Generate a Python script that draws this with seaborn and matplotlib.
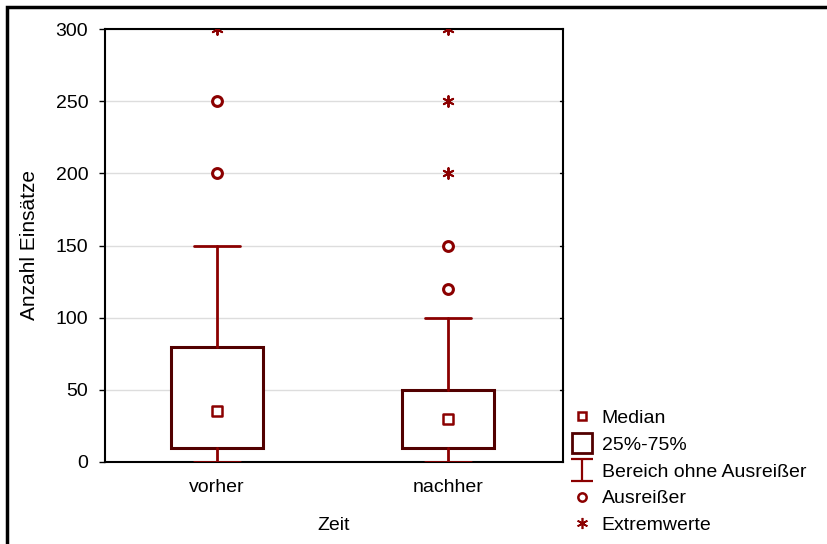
import matplotlib
matplotlib.use("Agg")
import matplotlib.pyplot as plt
from matplotlib.lines import Line2D
from matplotlib.path import Path
from matplotlib.patches import Rectangle
import seaborn as sns
import pandas as pd

# Summary statistics per period
groups = ["vorher", "nachher"]
medians = [35, 30]
q1 = [10, 10]
q3 = [80, 50]
whisker_low = [0, 0]
whisker_high = [150, 100]
# Outliers and extreme values per group
outliers_vorher = [200, 250]
outliers_nachher = [120, 150]
extremes_vorher = [300]
extremes_nachher = [200, 250, 300]

yticks = [0, 50, 100, 150, 200, 250, 300]
legend_labels = ["Median", "25%-75%", "Bereich ohne Ausreißer", "Ausreißer", "Extremwerte"]

BOX_COL = "#520000"
RED = "#8b0000"

sns.set_style("white")
plt.rcParams["font.family"] = ["Liberation Sans", "DejaVu Sans"]
plt.rcParams["font.size"] = 14
plt.rcParams["text.color"] = "black"
plt.rcParams["axes.labelcolor"] = "black"
plt.rcParams["xtick.color"] = "black"
plt.rcParams["ytick.color"] = "black"

fig = plt.figure(figsize=(8.27, 5.44), dpi=100)
ax = fig.add_axes([105 / 827, (544 - 462) / 544, 458 / 827, 433 / 544])

positions = list(range(len(groups)))
stats = [
    dict(med=medians[i], q1=q1[i], q3=q3[i], whislo=whisker_low[i],
         whishi=whisker_high[i], fliers=[], label=groups[i])
    for i in positions
]
ax.bxp(stats, positions=positions, widths=0.4, showfliers=False, capwidths=0.2,
       patch_artist=True,
       boxprops=dict(facecolor="white", edgecolor=BOX_COL, linewidth=2.2),
       whiskerprops=dict(color=RED, linewidth=2),
       capprops=dict(color=RED, linewidth=2),
       medianprops=dict(linewidth=0, alpha=0), zorder=3)

# medians as small squares
med_df = pd.DataFrame({"pos": positions, "val": medians})
sns.scatterplot(data=med_df, x="pos", y="val", marker="s", s=45,
                facecolor="white", edgecolor=RED, linewidth=1.8, ax=ax, zorder=4)

out_df = pd.DataFrame({
    "pos": [0] * len(outliers_vorher) + [1] * len(outliers_nachher),
    "val": outliers_vorher + outliers_nachher,
})
sns.scatterplot(data=out_df, x="pos", y="val", marker="o", s=50,
                facecolor="white", edgecolor=RED, linewidth=2.2, ax=ax, zorder=4)

ext_df = pd.DataFrame({
    "pos": [0] * len(extremes_vorher) + [1] * len(extremes_nachher),
    "val": extremes_vorher + extremes_nachher,
})
sns.scatterplot(data=ext_df, x="pos", y="val", marker=(6, 2, 0), s=60,
                color=RED, edgecolor=RED, linewidth=1.4, ax=ax, zorder=4)

ax.set_xlim(-0.485, 1.498)
ax.set_ylim(0, 300)
ax.set_xticks(positions)
ax.set_xticklabels(groups)
ax.set_yticks(yticks)
ax.yaxis.grid(True, color="#dddddd", linewidth=1)
ax.set_axisbelow(True)
ax.tick_params(axis="x", length=0, pad=12, labelsize=14)
ax.tick_params(axis="y", direction="out", length=4, width=1, pad=8, labelsize=14,
               right=False, left=True)
for s in ax.spines.values():
    s.set_color("black")
    s.set_linewidth(1.5)
ax.set_xlabel("Zeit", fontsize=14, labelpad=15)
ax.set_ylabel("Anzahl Einsätze", fontsize=15, labelpad=12)

# inward ticks on the right spine
for y in yticks[1:-1]:
    ax.plot([1.498 - 0.012, 1.498], [y, y], color="black", lw=1, clip_on=False, zorder=5)

# legend
whisker_marker = Path([(-1, 1), (1, 1), (0, 1), (0, -1), (-1, -1), (1, -1)],
                      [Path.MOVETO, Path.LINETO, Path.MOVETO, Path.LINETO,
                       Path.MOVETO, Path.LINETO])
handles = [
    Line2D([], [], ls="", marker="s", ms=6, mfc="white", mec=RED, mew=1.8),
    Line2D([], [], ls="", marker="s", ms=15, mfc="white", mec=BOX_COL, mew=2),
    Line2D([], [], ls="", marker=whisker_marker, ms=16, mec=RED, mew=1.6),
    Line2D([], [], ls="", marker="o", ms=6, mfc="white", mec=RED, mew=1.8),
    Line2D([], [], ls="", marker=(6, 2, 0), ms=8, mec=RED, mew=1.2),
]
fig.legend(handles, legend_labels, loc="upper left",
           bbox_to_anchor=(557 / 827, 1 - 396 / 544), frameon=False,
           fontsize=14, handlelength=1.2, handletextpad=0.4, labelspacing=0.47,
           borderpad=0.2)

# outer frame
fig.patches.append(Rectangle((7 / 827, -0.1), 1.2, 1 - 7 / 544 + 0.1,
                             transform=fig.transFigure, fill=False,
                             edgecolor="black", linewidth=2.5))

fig.savefig("out.png", dpi=100)
